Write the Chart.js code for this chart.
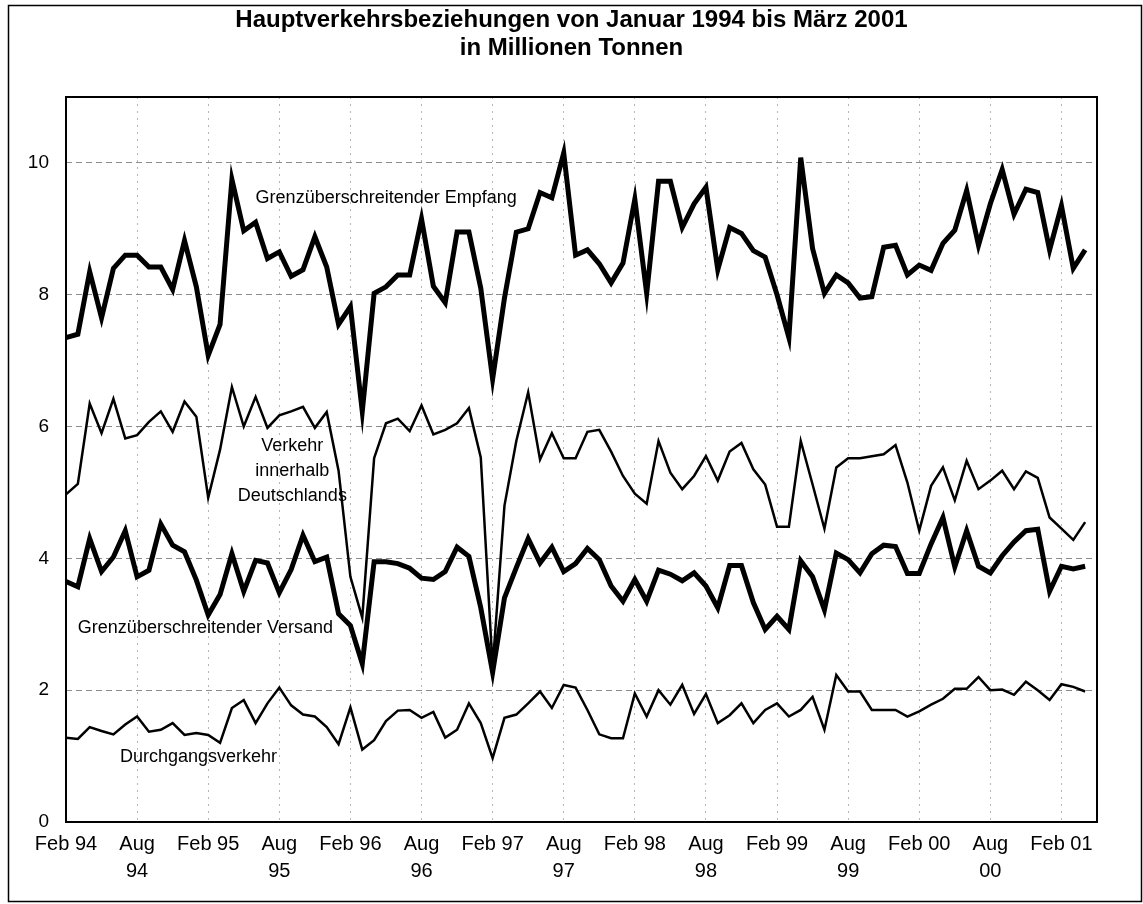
<!DOCTYPE html>
<html lang="de">
<head>
<meta charset="utf-8">
<title>Hauptverkehrsbeziehungen 1994 – 2001</title>
<script src="https://cdn.jsdelivr.net/npm/chart.js@4.4.1/dist/chart.umd.min.js"></script>
<style>
  html, body { margin: 0; padding: 0; background: #fff; }
  #wrap { width: 1143px; height: 904px; }
</style>
</head>
<body>
<div id="wrap"><canvas id="chart" width="1143" height="904"></canvas></div>
<script>
/* ─── Daten ──────────────────────────────────────────── */
const TITLE_LINES = [
  "Hauptverkehrsbeziehungen von Januar 1994 bis März 2001",
  "in Millionen Tonnen",
];

// Monate Jan 94 … Apr 01 (die letzte Kategorie bleibt leer, wie im Original)
const MONTHS = ["Jan", "Feb", "Mär", "Apr", "Mai", "Jun", "Jul", "Aug", "Sep", "Okt", "Nov", "Dez"];
const FIRST_YEAR = 1994;
const CATEGORY_COUNT = 88;

// Achsenbeschriftung, eine alle 6 Kategorien
const TICK_EVERY = 6;
const TICK_LABELS = [
  "Feb 94", ["Aug", "94"], "Feb 95", ["Aug", "95"], "Feb 96", ["Aug", "96"],
  "Feb 97", ["Aug", "97"], "Feb 98", ["Aug", "98"], "Feb 99", ["Aug", "99"],
  "Feb 00", ["Aug", "00"], "Feb 01",
];
const Y_TICKS = [0, 2, 4, 6, 8, 10];

const empfang = [
  7.35, 7.4, 8.35, 7.65, 8.4, 8.6, 8.6, 8.42, 8.42, 8.08,
  8.82, 8.12, 7.08, 7.55, 9.75, 8.97, 9.1, 8.55, 8.65, 8.28,
  8.38, 8.88, 8.42, 7.55, 7.82, 6.23, 8.02, 8.12, 8.3, 8.3,
  9.15, 8.13, 7.88, 8.95, 8.95, 8.1, 6.72, 7.95, 8.95, 9.0,
  9.55, 9.47, 10.15, 8.6, 8.68, 8.47, 8.18, 8.48, 9.45, 8.02,
  9.72, 9.72, 9.02, 9.38, 9.63, 8.38, 9.02, 8.93, 8.67, 8.57,
  8.0, 7.35, 10.08, 8.7, 8.02, 8.3, 8.18, 7.95, 7.97, 8.72,
  8.75, 8.3, 8.45, 8.37, 8.78, 8.98, 9.58, 8.75, 9.38, 9.9,
  9.22, 9.6, 9.55, 8.68, 9.35, 8.4, 8.68,
];

const inland = [
  4.97, 5.13, 6.35, 5.9, 6.42, 5.82, 5.87, 6.07, 6.23, 5.92,
  6.38, 6.15, 4.92, 5.65, 6.6, 6.0, 6.45, 5.98, 6.17, 6.23,
  6.3, 5.98, 6.22, 5.33, 3.72, 3.1, 5.52, 6.05, 6.12, 5.93,
  6.32, 5.88, 5.95, 6.05, 6.28, 5.53, 2.35, 4.8, 5.78, 6.52,
  5.5, 5.9, 5.52, 5.52, 5.92, 5.95, 5.62, 5.25, 4.98, 4.83,
  5.78, 5.3, 5.05, 5.25, 5.55, 5.18, 5.62, 5.75, 5.35, 5.12,
  4.48, 4.48, 5.78, 5.12, 4.45, 5.38, 5.52, 5.52, 5.55, 5.58,
  5.72, 5.15, 4.42, 5.1, 5.38, 4.88, 5.48, 5.05, 5.18, 5.33,
  5.05, 5.32, 5.22, 4.62, 4.45, 4.28, 4.55,
];

const versand = [
  3.65, 3.57, 4.3, 3.8, 4.02, 4.42, 3.72, 3.82, 4.52, 4.2,
  4.1, 3.67, 3.14, 3.45, 4.07, 3.5, 3.97, 3.93, 3.48, 3.83,
  4.35, 3.95, 4.02, 3.16, 2.98, 2.4, 3.95, 3.95, 3.92, 3.85,
  3.7, 3.68, 3.8, 4.17, 4.03, 3.25, 2.27, 3.4, 3.86, 4.3,
  3.93, 4.17, 3.8, 3.92, 4.15, 3.98, 3.58, 3.35, 3.68, 3.35,
  3.82, 3.76, 3.66, 3.78, 3.58, 3.25, 3.89, 3.89, 3.33, 2.92,
  3.12, 2.92, 3.96, 3.72, 3.22, 4.08, 3.98, 3.78, 4.07, 4.2,
  4.18, 3.77, 3.77, 4.22, 4.62, 3.87, 4.42, 3.88, 3.78, 4.04,
  4.25, 4.42, 4.44, 3.5, 3.88, 3.84, 3.88,
];

const durchgang = [
  1.28, 1.26, 1.44, 1.38, 1.33, 1.48, 1.6, 1.37, 1.4, 1.5,
  1.32, 1.35, 1.32, 1.2, 1.73, 1.85, 1.5, 1.8, 2.04, 1.77,
  1.63, 1.6, 1.44, 1.18, 1.74, 1.1, 1.24, 1.53, 1.69, 1.7,
  1.58, 1.67, 1.28, 1.4, 1.8, 1.5, 0.97, 1.58, 1.63, 1.8,
  1.98, 1.73, 2.08, 2.04, 1.7, 1.33, 1.27, 1.27, 1.95, 1.6,
  2.0, 1.78, 2.08, 1.64, 1.94, 1.5, 1.62, 1.8, 1.5, 1.7,
  1.8, 1.6, 1.7, 1.9, 1.4, 2.23, 1.98, 1.98, 1.7, 1.7,
  1.7, 1.6, 1.68, 1.78, 1.87, 2.02, 2.02, 2.2, 2.0, 2.01,
  1.93, 2.13, 2.0, 1.85, 2.09, 2.05, 1.98,
];

// Beschriftungen an den Linien (Kategorie-Index / Wert)
const NOTES = [
  { lines: ["Grenzüberschreitender Empfang"], at: 16, value: 9.47, align: "left" },
  { lines: ["Verkehr", "innerhalb", "Deutschlands"], at: 19.1, value: 5.71, align: "center" },
  { lines: ["Grenzüberschreitender Versand"], at: 1.0, value: 2.95, align: "left" },
  { lines: ["Durchgangsverkehr"], at: 4.55, value: 0.99, align: "left" },
];

/* ─── Kategorien ─────────────────────────────────────── */
const categories = [];
for (let i = 0; i < CATEGORY_COUNT; i++) {
  const yy = String((FIRST_YEAR + Math.floor(i / 12)) % 100).padStart(2, "0");
  categories.push(MONTHS[i % 12] + " " + yy);
}

const FONT = "'Liberation Sans', Arial, Helvetica, sans-serif";

/* ─── Rahmen, Titel, Linienbeschriftungen ────────────── */
const decor = {
  id: "decor",
  beforeDraw(chart) {
    const ctx = chart.ctx;
    ctx.save();
    ctx.fillStyle = "#fff";
    ctx.fillRect(0, 0, chart.width, chart.height);
    ctx.restore();
  },
  afterDraw(chart) {
    const { ctx, chartArea: a, scales } = chart;
    ctx.save();
    ctx.strokeStyle = "#000";

    // Plotrahmen
    ctx.lineWidth = 2;
    ctx.strokeRect(a.left, a.top, a.right - a.left, a.bottom - a.top);

    // äußerer Rahmen
    ctx.lineWidth = 1.5;
    ctx.strokeRect(8.5, 5.5, chart.width - 10, chart.height - 8);

    // Titel
    ctx.fillStyle = "#000";
    ctx.font = "bold 24px " + FONT;
    ctx.textAlign = "center";
    ctx.textBaseline = "middle";
    TITLE_LINES.forEach((t, i) => ctx.fillText(t, chart.width / 2, 20 + i * 28));

    // Linienbeschriftungen
    ctx.font = "18px " + FONT;
    NOTES.forEach((n) => {
      const x = scales.x.getPixelForValue(n.at);
      const y = scales.y.getPixelForValue(n.value);
      ctx.textAlign = n.align;
      n.lines.forEach((l, i) => ctx.fillText(l, x, y + i * 25));
    });
    ctx.restore();
  },
};

/* ─── Chart ──────────────────────────────────────────── */
const line = (label, data, width) => ({
  label,
  data,
  borderColor: "#000",
  backgroundColor: "#000",
  borderWidth: width,
  pointRadius: 0,
  tension: 0,
  borderJoinStyle: "miter",
});

new Chart(document.getElementById("chart"), {
  type: "line",
  data: {
    labels: categories,
    datasets: [
      line("Grenzüberschreitender Empfang", empfang, 5),
      line("Verkehr innerhalb Deutschlands", inland, 2.5),
      line("Grenzüberschreitender Versand", versand, 5),
      line("Durchgangsverkehr", durchgang, 2.5),
    ],
  },
  options: {
    responsive: false,
    animation: false,
    devicePixelRatio: 1,
    layout: { padding: { top: 97, right: 46, left: 0, bottom: 0 } },
    plugins: {
      legend: { display: false },
      tooltip: { enabled: false },
      title: { display: false },
    },
    scales: {
      x: {
        offset: false,
        grid: { color: "#b5b5b5", lineWidth: 1, drawTicks: false },
        border: { display: false, dash: [2, 5] },
        ticks: {
          autoSkip: false,
          maxRotation: 0,
          minRotation: 0,
          padding: 9,
          color: "#000",
          font: { family: FONT, size: 20, lineHeight: 1.35 },
          callback: (v, i) => (i % TICK_EVERY === 0 && TICK_LABELS[i / TICK_EVERY] !== undefined
            ? TICK_LABELS[i / TICK_EVERY] : null),
        },
        afterFit: (s) => { s.height = 82; },
      },
      y: {
        min: 0,
        max: 11,
        grid: { color: "#8c8c8c", lineWidth: 1, drawTicks: false },
        border: { display: false, dash: [6, 4] },
        ticks: {
          padding: 17,
          color: "#000",
          font: { family: FONT, size: 19 },
        },
        afterBuildTicks: (s) => { s.ticks = Y_TICKS.map((v) => ({ value: v })); },
        afterFit: (s) => { s.width = 66; },
      },
    },
  },
  plugins: [decor],
});
</script>
</body>
</html>
